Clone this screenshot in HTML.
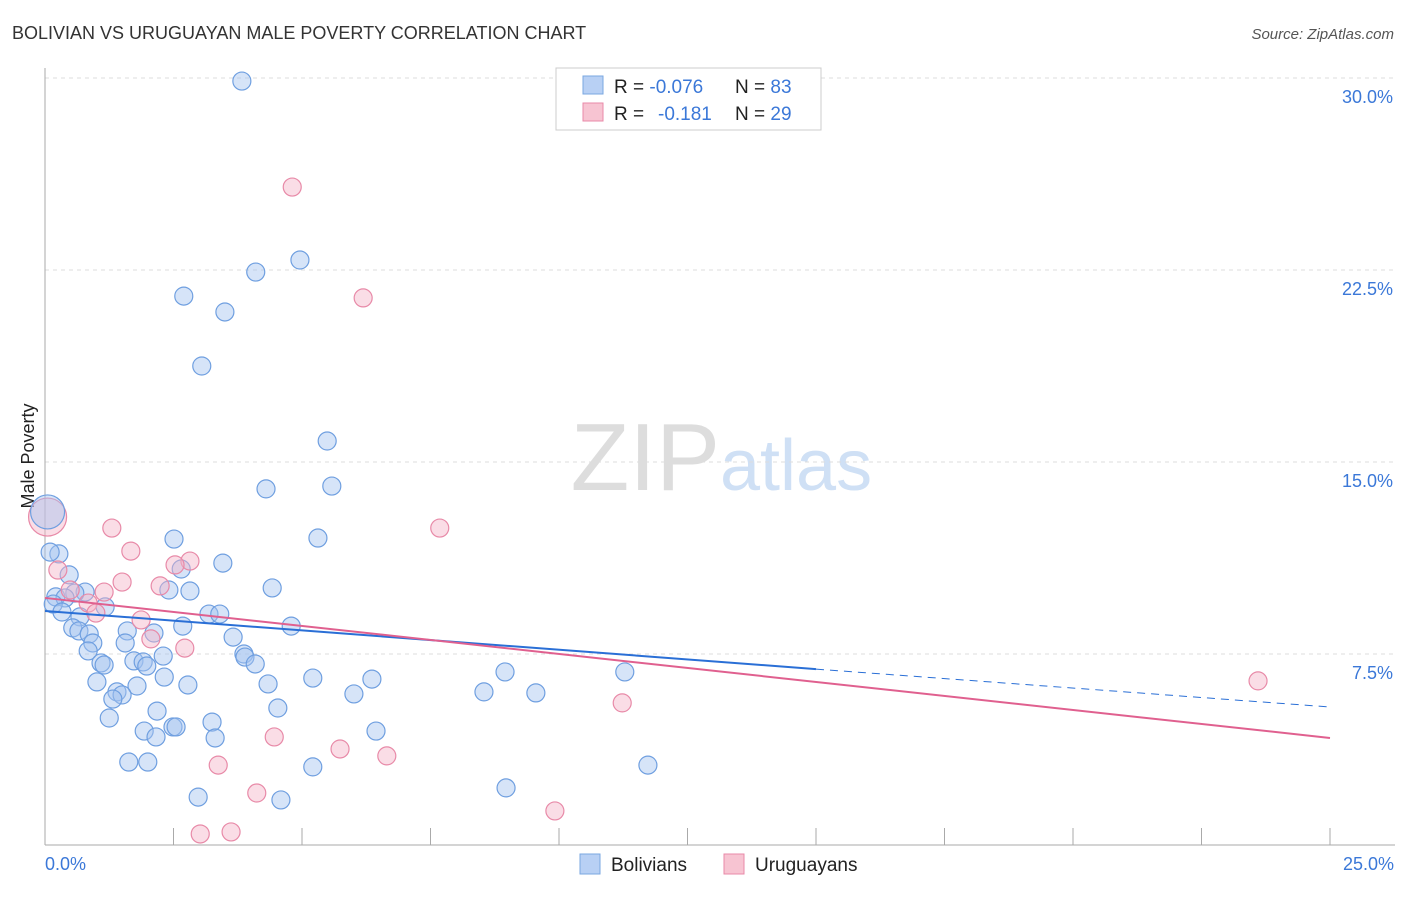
<!DOCTYPE html>
<html><head><meta charset="utf-8"><style>
body{margin:0;background:#fff;font-family:"Liberation Sans",sans-serif;}
svg text{font-family:"Liberation Sans",sans-serif;}
</style></head><body>
<svg id="chart" width="1406" height="892">
<text x="12" y="39" font-size="18" fill="#333">BOLIVIAN VS URUGUAYAN MALE POVERTY CORRELATION CHART</text>
<text x="1394" y="39" font-size="15" fill="#555" font-style="italic" text-anchor="end">Source: ZipAtlas.com</text>
<text x="720" y="490" font-size="96" fill="#ddd" font-family="Liberation Serif" text-anchor="end">ZIP</text>
<text x="720" y="490" font-size="72" fill="#cfe0f5">atlas</text>
<g id="grid"></g>
<line x1="45" y1="68" x2="45" y2="845" stroke="#aaa"/>
<line x1="45" y1="845" x2="1395" y2="845" stroke="#aaa"/>
<text x="34" y="456" font-size="18" fill="#222" text-anchor="middle" transform="rotate(-90 34 456)">Male Poverty</text>
<text x="45" y="870" font-size="18" fill="#3b78d8">0.0%</text>
<text x="1394" y="870" font-size="18" fill="#3b78d8" text-anchor="end">25.0%</text>
<g id="points"></g>
<g id="lines"></g>
<g>
<rect x="556" y="68" width="265" height="62" fill="#fff" stroke="#ccc"/>
<rect x="583" y="76" width="20" height="18" fill="#b8d0f4" stroke="#7aa7e0"/>
<rect x="583" y="103" width="20" height="18" fill="#f7c4d2" stroke="#e88aa8"/>
<text x="614" y="93" font-size="19" fill="#222">R = <tspan fill="#3b78d8">-0.076</tspan><tspan x="735">N = </tspan><tspan fill="#3b78d8">83</tspan></text>
<text x="614" y="120" font-size="19" fill="#222">R = <tspan x="658" fill="#3b78d8">-0.181</tspan><tspan x="735">N = </tspan><tspan fill="#3b78d8">29</tspan></text>
</g>
<g>
<rect x="580" y="854" width="20" height="20" fill="#b8d0f4" stroke="#7aa7e0"/>
<text x="611" y="871" font-size="19" fill="#222">Bolivians</text>
<rect x="724" y="854" width="20" height="20" fill="#f7c4d2" stroke="#e88aa8"/>
<text x="755" y="871" font-size="19" fill="#222">Uruguayans</text>
</g>
</svg>
<script>
const yTicks=[7.5,15,22.5,30];
const yTickLabels=["7.5%","15.0%","22.5%","30.0%"];
const xTicks=[0,2.5,5,7.5,10,12.5,15,17.5,20,22.5,25];
const bolX=[3.83,4.96,4.10,2.70,3.50,3.05,5.49,4.30,5.58,5.31,2.51,0.27,0.10,3.46,2.65,0.47,4.42,2.41,2.82,0.78,0.58,0.21,0.39,0.16,1.17,0.33,0.68,3.19,3.40,4.79,2.68,0.54,0.66,0.86,2.12,1.60,3.66,1.56,0.93,2.30,3.87,3.89,0.84,1.73,1.91,1.98,4.09,1.09,1.15,8.95,11.28,2.32,5.21,6.36,1.01,2.78,1.79,4.34,1.40,6.01,8.54,9.55,1.50,1.32,4.53,2.18,1.25,3.25,6.44,1.93,2.49,2.55,2.16,3.31,1.63,2.00,5.21,11.73,8.97,2.98,4.59];
const bolY=[29.88,22.89,22.42,21.48,20.86,18.75,15.82,13.95,14.06,12.03,11.99,11.41,11.48,11.05,10.82,10.59,10.08,10.00,9.96,9.92,9.88,9.73,9.69,9.45,9.34,9.14,8.95,9.06,9.06,8.59,8.59,8.52,8.40,8.28,8.32,8.40,8.16,7.93,7.93,7.42,7.50,7.38,7.62,7.23,7.19,7.03,7.11,7.15,7.07,6.80,6.80,6.60,6.56,6.52,6.41,6.29,6.25,6.33,6.02,5.94,6.02,5.98,5.90,5.74,5.39,5.27,5.00,4.84,4.49,4.49,4.65,4.65,4.26,4.22,3.28,3.28,3.09,3.16,2.27,1.91,1.80];
const uruX=[4.81,6.19,7.68,1.30,1.67,2.82,2.53,2.24,1.50,0.25,1.15,0.49,0.84,0.99,1.87,2.06,2.72,23.60,11.23,4.46,5.74,6.65,3.37,4.12,9.92,3.02,3.62];
const uruY=[25.74,21.41,12.42,12.42,11.52,11.13,10.98,10.16,10.31,10.78,9.92,10.00,9.49,9.10,8.83,8.09,7.73,6.45,5.59,4.26,3.79,3.52,3.16,2.07,1.37,0.47,0.55];
const bolBig=[0.05,13.05];
const uruBig=[0.05,12.85];
const bolTrend=[9.18,6.91,5.43]; // at x=0, 15, 25
const uruTrend=[9.69,4.22]; // at x=0, 25
const NS="http://www.w3.org/2000/svg";
const sx=v=>45+v/25*1285;
const sy=v=>846-v/7.5*192;
function mk(t,a,p){const e=document.createElementNS(NS,t);for(const k in a)e.setAttribute(k,a[k]);p.appendChild(e);return e;}
const grid=document.getElementById('grid');
yTicks.forEach((v,i)=>{
 const l=mk('line',{x1:45,x2:1395,y1:sy(v),y2:sy(v),stroke:'#ddd','stroke-dasharray':'4,4'},grid);
 
 
 const t=mk('text',{x:1393,y:sy(v)+25,'font-size':18,fill:'#3b78d8','text-anchor':'end'},grid);
 t.textContent=yTickLabels[i];
 
 
});
xTicks.forEach(v=>{
 const l=mk('line',{x1:sx(v),x2:sx(v),y1:828,y2:845,stroke:'#aaa'},grid);
 
 
});
const pts=document.getElementById('points');
bolX.forEach((x,i)=>{
 const c=mk('circle',{cx:sx(x),cy:sy(bolY[i]),r:9,fill:'rgba(164,196,240,0.45)',stroke:'#6f9fe0','stroke-width':1.2},pts);
 
 
});
uruX.forEach((x,i)=>{
 const c=mk('circle',{cx:sx(x),cy:sy(uruY[i]),r:9,fill:'rgba(244,180,200,0.45)',stroke:'#e88aa8','stroke-width':1.2},pts);
 
 
});
const b1=mk('circle',{cx:sx(uruBig[0]),cy:sy(uruBig[1]),r:19,fill:'rgba(244,180,200,0.45)',stroke:'#e88aa8','stroke-width':1.2},pts);


const b2=mk('circle',{cx:sx(bolBig[0]),cy:sy(bolBig[1]),r:17,fill:'rgba(164,196,240,0.45)',stroke:'#6f9fe0','stroke-width':1.2},pts);


const ln=document.getElementById('lines');
const t1=mk('line',{x1:sx(0),y1:sy(bolTrend[0]),x2:sx(15),y2:sy(bolTrend[1]),stroke:'#2a6fd6','stroke-width':2},ln);


const t2=mk('line',{x1:sx(15),y1:sy(bolTrend[1]),x2:sx(25),y2:sy(bolTrend[2]),stroke:'#2a6fd6','stroke-width':1,'stroke-dasharray':'8,6'},ln);


const t3=mk('line',{x1:sx(0),y1:sy(uruTrend[0]),x2:sx(25),y2:sy(uruTrend[1]),stroke:'#e0608f','stroke-width':2},ln);


</script>
</body></html>
